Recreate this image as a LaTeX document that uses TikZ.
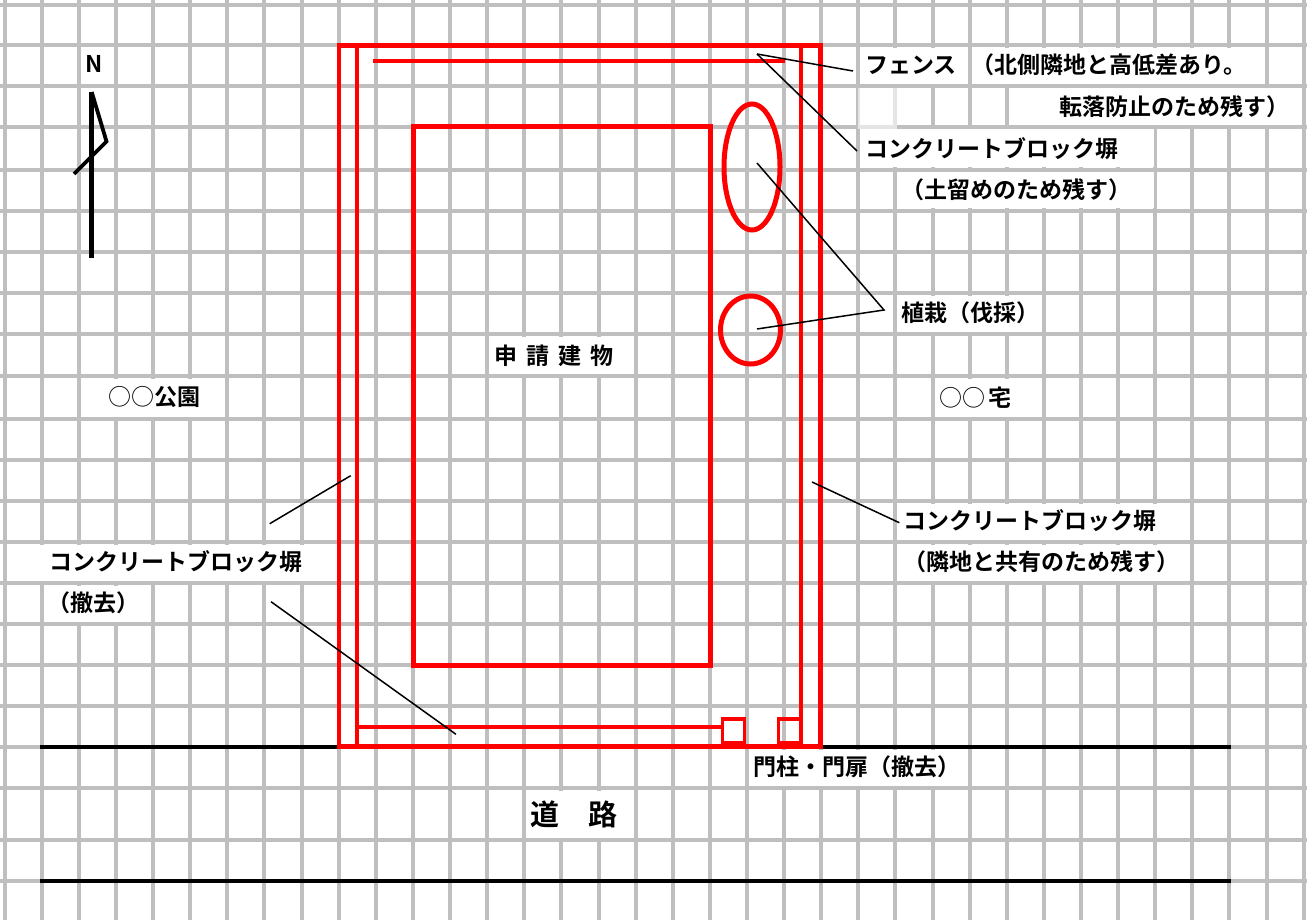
\documentclass[tikz,border=0pt]{standalone}
\usepackage{fontspec}
\setmainfont{Noto Sans CJK JP}[BoldFont={Noto Sans CJK JP Bold}]
\definecolor{gridgray}{HTML}{BFBFBF}
\tikzset{
  x=1pt,y=-1pt,
  grid line/.style={draw=gridgray,line width=3.6pt},
  patch/.style={fill=white},
  red outer/.style={draw=red,line width=4.4pt},
  red thick/.style={draw=red,line width=5pt},
  red thin/.style={draw=red,line width=3.6pt},
  road/.style={draw=black,line width=4.4pt},
  leader/.style={draw=black,line width=1.5pt},
  lbl/.style={inner sep=0pt,anchor=west,font=\fontsize{23}{26}\selectfont\bfseries,text=black},
}
\newcommand{\lsp}[1]{\addfontfeature{LetterSpace=#1}}
\begin{document}
\begin{tikzpicture}
\useasboundingbox (0,0) rectangle (1307,920);
\fill[white] (0,0) rectangle (1307,920);
% grid
\foreach \gx in {5,42,79,116,153,190,227,264,302,339,376,413,450,487,524,561,599,636,673,710,747,784,821,858,895,933,970,1007,1044,1081,1118,1155,1192,1229,1267,1304}
  \draw[grid line] (\gx,0) -- (\gx,920);
\foreach \gy in {5,45,86,127,170,211,252,293,334,376,419,460,501,542,583,624,665,706,747,788,840,881}
  \draw[grid line] (0,\gy) -- (1307,\gy);
% white patches behind labels
\foreach \xa/\ya/\xb/\yb in {
  860.5/48/968/84, 972/48/1265/84, 1009.5/88/1302/125, 860.5/129.5/1153.5/167.5, 897.5/172.5/1153.5/208.5,
  897.5/295.5/1042/331.5, 489.5/336.5/633.5/373.5, 81.5/378.5/224.5/416.5, 935.5/378.5/1041.5/416.5,
  897.5/503.5/1189.5/539.5, 897.5/544.5/1189.5/580.5, 7.5/544.5/336.5/580.5, 44.5/585.5/150.5/621.5,
  749.5/750/967.5/785.5, 526.5/790.5/633.5/837.5}
  \fill[patch] (\xa,\ya) rectangle (\xb,\yb);
\fill[white,opacity=.6] (857.5,88) rectangle (896.5,129);
% road
\coordinate (roadAL) at (40,747); \coordinate (roadAR) at (1231,747);
\coordinate (roadBL) at (40,881); \coordinate (roadBR) at (1231,881);
\draw[road] (roadAL) -- (roadAR);
\draw[road] (roadBL) -- (roadBR);
% north arrow
\coordinate (nTop) at (91.7,92); \coordinate (nBot) at (91.7,258);
\coordinate (nMid) at (106.5,141.5); \coordinate (nEnd) at (74,174);
\draw[black,line width=4.6pt] (nTop) -- (nBot);
\draw[black,line width=3.8pt,miter limit=10] (nTop) -- (nMid) -- (nEnd);
% site
\draw[red outer] (339,45.5) rectangle (820.5,746.5);
\draw[red thin] (357,45) -- (357,747);
\draw[red thin] (801,45) -- (801,747);
\draw[red thin] (373,61) -- (785,61);
\draw[red thin] (357,727) -- (722,727);
\draw[red thick] (413.5,127) rectangle (710.5,665);
\draw[red thick] (752,167) ellipse [x radius=28,y radius=63];
\draw[red thick] (750.5,330) ellipse [x radius=30,y radius=34];
\draw[red thin] (722.5,719) rectangle (744.5,743);
\draw[red thin] (778.5,719) rectangle (800.5,743);
% labels
\node[lbl,anchor=center] (north) at (94,64) {N};
\node[lbl] (fence) at (865,65) {フェンス};
\node[lbl] (fenceA) at (971,65) {（北側隣地と高低差あり。};
\node[lbl] (fenceB) at (1059.5,107) {転落防止のため残す）};
\node[lbl] (cbN) at (865.5,148.5) {コンクリートブロック塀};
\node[lbl] (cbNb) at (901,190) {（土留めのため残す）};
\node[lbl] (plant) at (901,313) {植栽（伐採）};
\node[lbl] (bldg) at (494.5,356) {\lsp{39}申請建物};
\node[lbl] (park) at (108.5,397.5) {{\mdseries ○○}公園};
\node[lbl] (house) at (939.5,397.5) {{\mdseries ○○}\kern3pt 宅};
\node[lbl] (cbE) at (903.5,521) {コンクリートブロック塀};
\node[lbl] (cbEb) at (903.5,562) {（隣地と共有のため残す）};
\node[lbl] (cbW) at (49.5,562) {コンクリートブロック塀};
\node[lbl] (cbWb) at (47,603) {（撤去）};
\node[lbl] (gate) at (753,767) {門柱・門扉（撤去）};
\node[lbl,font=\fontsize{29}{32}\selectfont\bfseries] (street) at (530.5,814.5) {道　路};
% leaders
\coordinate (fenceTip) at (757,54);
\coordinate (fenceEnd) at (853,71);
\coordinate (cbEnd) at (857,151);
\coordinate (plantJoin) at (884,310);
\coordinate (plantA) at (757,163);
\coordinate (plantB) at (757,329);
\coordinate (wA) at (350.7,475.7); \coordinate (wB) at (269.7,523.7);
\coordinate (sA) at (271,601.7); \coordinate (sB) at (456,734.3);
\coordinate (eA) at (812,482); \coordinate (eB) at (899.3,522.7);
\draw[leader] (fenceTip) -- (fenceEnd);
\draw[leader] (fenceTip) -- (cbEnd);
\draw[leader] (plantA) -- (plantJoin) -- (plantB);
\draw[leader] (wA) -- (wB);
\draw[leader] (sA) -- (sB);
\draw[leader] (eA) -- (eB);
\end{tikzpicture}
\end{document}
